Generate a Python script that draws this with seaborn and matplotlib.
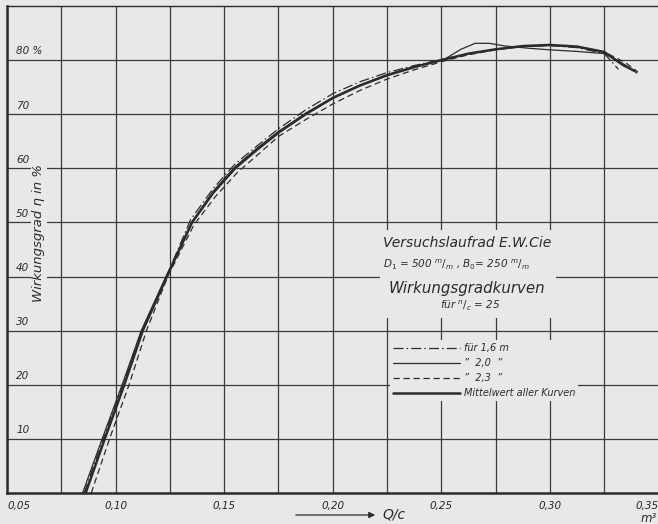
import numpy as np
import pandas as pd
import seaborn as sns
import matplotlib
matplotlib.use("Agg")
import matplotlib.pyplot as plt
from matplotlib.patches import Rectangle

# Wirkungsgradkurven, Versuchslaufrad E.W.Cie
q_16 = [0.0855, 0.0943, 0.1034, 0.1120, 0.1234, 0.1345, 0.145, 0.155, 0.165, 0.175, 0.1875,
        0.20, 0.2125, 0.225, 0.2375, 0.25, 0.2625, 0.275, 0.2875, 0.30, 0.3125, 0.325, 0.3315]
eta_16 = [0, 10, 20, 30, 40, 50.5, 56.3, 60.8, 64.1, 67.3, 70.8,
          73.8, 76.0, 77.7, 79.0, 80.1, 81.2, 82.0, 82.5, 82.7, 82.3, 81.2, 78.3]

q_20 = [0.0848, 0.0938, 0.1030, 0.1118, 0.1232, 0.1350, 0.145, 0.155, 0.165, 0.175, 0.1875,
        0.20, 0.2125, 0.225, 0.2375, 0.252, 0.259, 0.2655, 0.272, 0.2795, 0.29, 0.30,
        0.3125, 0.325, 0.330, 0.335, 0.340]
eta_20 = [0, 10, 20, 30, 40, 50, 55.8, 60.3, 63.7, 66.8, 70.2,
          73.1, 75.4, 77.3, 78.8, 80.3, 82.0, 83.1, 83.1, 82.6, 82.2, 81.9,
          81.6, 81.2, 80.2, 79.0, 77.6]

q_23 = [0.0888, 0.0972, 0.1062, 0.1142, 0.1240, 0.1360, 0.146, 0.156, 0.166, 0.175, 0.1875,
        0.20, 0.2125, 0.225, 0.2375, 0.25, 0.2625, 0.275, 0.2875, 0.30, 0.3125, 0.325,
        0.3345, 0.3405]
eta_23 = [0, 10, 20, 30, 40, 49.5, 54.8, 59.2, 62.7, 65.9, 69.0,
          71.9, 74.4, 76.5, 78.2, 79.7, 81.0, 81.9, 82.5, 82.7, 82.4, 81.5,
          79.6, 77.8]

q_mittel = [0.0862, 0.0950, 0.1040, 0.1125, 0.1236, 0.1352, 0.145, 0.155, 0.165, 0.175, 0.1875,
            0.20, 0.2125, 0.225, 0.2375, 0.25, 0.2625, 0.275, 0.2875, 0.30, 0.3125, 0.325,
            0.3303, 0.334, 0.339]
eta_mittel = [0, 10, 20, 30, 40, 50, 55.5, 60, 63.4, 66.6, 70.0,
              73.0, 75.3, 77.2, 78.7, 80.0, 81.2, 82.0, 82.6, 82.8, 82.5, 81.5,
              80.0, 79.0, 78.0]

labels = ["für 1,6 m", "\u201d  2,0  \u201d", "\u201d  2,3  \u201d", "Mittelwert aller Kurven"]
x_ticks = [0.05, 0.10, 0.15, 0.20, 0.25, 0.30, 0.35]
x_ticklabels = ["0,05", "0,10", "0,15", "0,20", "0,25", "0,30", "0,35"]
y_ticks = [10, 20, 30, 40, 50, 60, 70, 80]
y_ticklabels = ["10", "20", "30", "40", "50", "60", "70", "80 %"]

BG = "#e8e8e6"
INK = "#2b2b2b"
W, H = 658, 524

sns.set_style("white")
plt.rcParams["font.family"] = ["DejaVu Sans"]
plt.rcParams["mathtext.fontset"] = "dejavusans"
plt.rcParams["text.color"] = INK

fig = plt.figure(figsize=(W / 100, H / 100), dpi=100, facecolor=BG)
ax = fig.add_axes([7 / W, 31 / H, 651.6 / W, 487 / H])
ax.set_facecolor(BG)

styles = [((0, (8, 2.5, 1.2, 2.5)), 0.9),
          ("-", 0.9),
          ((0, (5, 3)), 0.9),
          ("-", 1.8)]
data = [(q_16, eta_16), (q_20, eta_20), (q_23, eta_23), (q_mittel, eta_mittel)]

for (q, e), lab, (ls, lw) in zip(data, labels, styles):
    df = pd.DataFrame({"Q": q, "eta": e})
    sns.lineplot(data=df, x="Q", y="eta", ax=ax, sort=False, estimator=None,
                 color=INK, linewidth=lw, linestyle=ls, label=lab, zorder=4)

ax.set_xlim(0.05, 0.35)
ax.set_ylim(0, 90)
ax.set_xticks(x_ticks)
ax.set_xticks([t + 0.025 for t in x_ticks[:-1]], minor=True)
ax.set_yticks(y_ticks)
ax.set_yticklabels([])
ax.set_xticklabels(x_ticklabels, fontstyle="italic", fontsize=7.5)
tl = ax.get_xticklabels()
tl[0].set_horizontalalignment("left")
tl[-1].set_horizontalalignment("right")
ax.tick_params(length=0, pad=6)
ax.grid(True, which="both", color="#3a3a3a", linewidth=0.9)
ax.set_axisbelow(True)
ax.set_xlabel("")
ax.set_ylabel("")
for s in ["left", "bottom"]:
    ax.spines[s].set_linewidth(1.8)
    ax.spines[s].set_color(INK)
ax.spines["top"].set_linewidth(1.0)
ax.spines["top"].set_color(INK)
ax.spines["right"].set_visible(False)

for v, t in zip(y_ticks, y_ticklabels):
    ax.text(0.0542, v + 1.6, t, fontsize=7.5, fontstyle="italic", va="center", ha="left")

fig.text(39 / W, 1 - 233 / H, "Wirkungsgrad \u03b7 in %", rotation=90, fontsize=9.5,
         fontstyle="italic", ha="center", va="center",
         bbox=dict(facecolor=BG, edgecolor="none", pad=1))

# plain patch behind the title block, as in the print
fig.patches.append(Rectangle((380 / W, 1 - 318 / H), 176 / W, 88 / H, transform=fig.transFigure,
                             facecolor=BG, edgecolor="none", zorder=1))
fig.text(467 / W, 1 - 243 / H, "Versuchslaufrad E.W.Cie", fontsize=10, fontstyle="italic",
         ha="center", va="center", zorder=5)
fig.text(456 / W, 1 - 265 / H, r"D$_1$ = 500 $^m/_m$ , B$_0$= 250 $^m/_m$", fontsize=7.5,
         fontstyle="italic", ha="center", va="center", zorder=5)
fig.text(467 / W, 1 - 288 / H, "Wirkungsgradkurven", fontsize=10.8, fontstyle="italic",
         ha="center", va="center", zorder=5)
fig.text(470 / W, 1 - 306 / H, r"für $^n/_c$ = 25", fontsize=7.5, fontstyle="italic",
         ha="center", va="center", zorder=5)

leg = ax.legend(loc="upper left", bbox_to_anchor=(390 / W, 1 - 340 / H), bbox_transform=fig.transFigure,
                frameon=True, facecolor=BG, edgecolor="none", framealpha=1, fontsize=7,
                handlelength=6.9, handletextpad=0.4, labelspacing=0.53, borderpad=0.3,
                borderaxespad=0)
for t in leg.get_texts():
    t.set_fontstyle("italic")

fig.text(382 / W, 1 - 515 / H, "Q/c", fontsize=10, fontstyle="italic", ha="left", va="center")
fig.text(641 / W, 1 - 518 / H, "m\u00b3", fontsize=8.5, fontstyle="italic", ha="left", va="center")
ax.annotate("", xy=(378 / W, 1 - 515 / H), xytext=(293 / W, 1 - 515 / H),
            xycoords="figure fraction", textcoords="figure fraction",
            arrowprops=dict(arrowstyle="-|>", color=INK, lw=0.9, mutation_scale=9))

fig.savefig("out.png", dpi=100, facecolor=BG)
